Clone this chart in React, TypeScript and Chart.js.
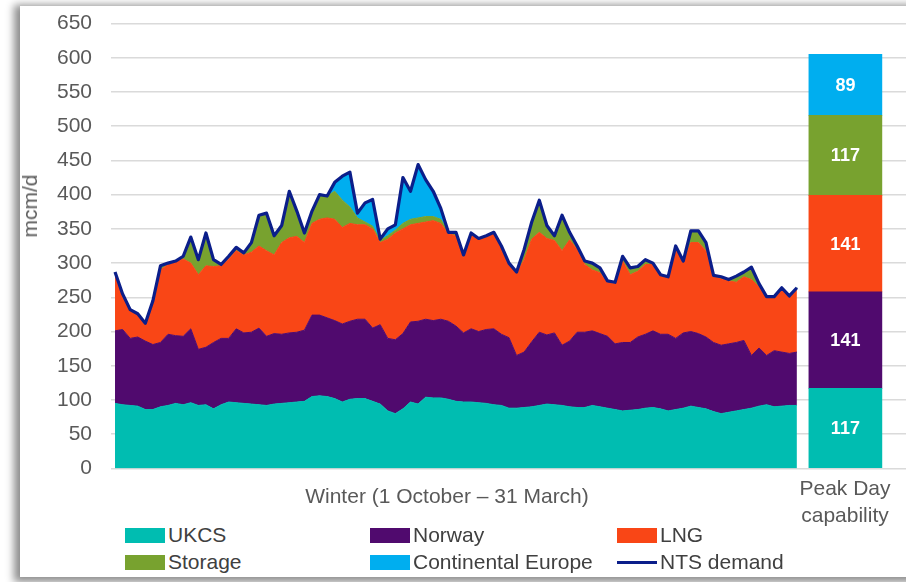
import React, { useEffect, useRef } from "react";
import { Chart, registerables } from "chart.js";

Chart.register(...registerables);

// ---- Data (one point every two days, 1 October – 31 March) ----
const ukcs = [
  95, 93, 92, 91, 86, 86, 90, 92, 95, 93,
  96, 92, 93, 87, 93, 97, 96, 95, 94, 93,
  92, 94, 95, 96, 97, 98, 105, 106, 105, 102,
  97, 101, 102, 102, 98, 94, 84, 80, 87, 97,
  94, 104, 103, 103, 101, 98, 97, 97, 96, 95,
  93, 92, 88, 88, 89, 90, 92, 94, 93, 92,
  90, 89, 89, 92, 90, 88, 86, 84, 85, 86,
  88, 89, 87, 84, 86, 88, 91, 89, 87, 83,
  80, 82, 84, 86, 88, 91, 93, 90, 91, 92, 92,
];
const norway = [
  106, 110, 98, 101, 100, 95, 94, 104, 99, 100,
  108, 82, 84, 97, 97, 93, 108, 103, 105, 112,
  101, 103, 101, 102, 102, 104, 119, 118, 115, 114,
  114, 114, 116, 116, 107, 116, 106, 108, 110, 117,
  121, 114, 113, 115, 114, 110, 101, 107, 104, 108,
  111, 104, 103, 77, 81, 95, 107, 101, 105, 88,
  96, 110, 110, 109, 107, 105, 96, 100, 99, 106,
  108, 112, 109, 112, 104, 110, 109, 108, 105, 101,
  100, 100, 100, 101, 77, 85, 72, 82, 79, 76, 78,
];
const lng = [
  84, 52, 42, 34, 26, 62, 106, 102, 108, 113,
  96, 109, 119, 111, 106, 116, 114, 114, 117, 120,
  125, 115, 134, 139, 140, 128, 134, 140, 146, 148,
  141, 143, 138, 138, 145, 120, 145, 156, 153, 142,
  143, 142, 146, 140, 128, 132, 110, 139, 135, 135,
  139, 127, 107, 120, 135, 150, 146, 141, 135, 138,
  148, 121, 99, 89, 89, 79, 88, 119, 99, 96,
  102, 97, 85, 82, 132, 102, 130, 133, 126, 96,
  97, 92, 88, 93, 111, 89, 85, 78, 93, 83, 92,
];
const storage = [
  2, 0, 0, 0, 0, 2, 6, 2, 1, 4,
  38, 22, 48, 10, 2, 4, 5, 3, 14, 45,
  55, 28, 25, 68, 37, 14, 18, 36, 32, 41,
  40, 24, 10, 4, 4, 3, 5, 4, 8, 8,
  8, 8, 6, 6, 2, 2, 2, 1, 1, 2,
  2, 2, 2, 2, 15, 25, 47, 19, 7, 52,
  11, 5, 5, 10, 7, 2, 2, 7, 10, 7,
  7, 2, 2, 2, 3, 3, 17, 17, 12, 2,
  3, 2, 9, 7, 18, 5, 1, 1, 1, 1, 2,
];
const continental = [
  0, 0, 0, 0, 0, 0, 0, 0, 0, 0,
  0, 0, 0, 0, 0, 0, 0, 0, 0, 0,
  0, 0, 0, 0, 0, 0, 0, 0, 0, 13,
  35, 51, 7, 28, 39, 2, 10, 8, 67, 41,
  78, 54, 37, 16, 0, 3, 2, 0, 0, 0,
  0, 0, 0, 0, 0, 0, 0, 0, 0, 0,
  0, 0, 0, 0, 0, 0, 0, 0, 0, 0,
  0, 0, 0, 0, 0, 0, 0, 0, 0, 0,
  0, 0, 0, 0, 0, 0, 0, 0, 0, 0, 0,
];
const ntsDemand = [
  287, 255, 232, 226, 212, 245, 296, 300, 303, 310,
  338, 305, 344, 305, 298, 310, 323, 315, 330, 370,
  373, 340, 355, 405, 376, 344, 376, 400, 398, 418,
  427, 433, 373, 388, 393, 335, 350, 356, 425, 405,
  444, 422, 405, 380, 345, 345, 312, 344, 336, 340,
  345, 325, 300, 287, 320, 360, 392, 355, 340, 370,
  345, 325, 303, 300, 293, 274, 272, 310, 293, 295,
  305, 300, 283, 280, 325, 303, 347, 347, 330, 282,
  280, 276, 281, 287, 294, 270, 251, 251, 264, 252, 264,
];

// Peak day capability (bottom to top)
const peakSeries = ["UKCS", "Norway", "LNG", "Storage", "Continental Europe"];
const peakValues = [117, 141, 141, 117, 89];

const yMin = 0;
const yMax = 650;
const yStep = 50;

const xTitle = "Winter (1 October \u2013 31 March)";
const yTitle = "mcm/d";
const peakTitle = ["Peak Day", "capability"];

// ---- Styles ----
const FONT = "'Liberation Sans', Arial, Helvetica, sans-serif";
const C = {
  ukcs: "#00BDB1",
  norway: "#500A6E",
  lng: "#F94616",
  storage: "#78A22F",
  cont: "#00AEEF",
  demand: "#0B1E8A",
};
const seriesColors = [C.ukcs, C.norway, C.lng, C.storage, C.cont];
const PEAK_X = 96.4;

const barLabelPlugin = {
  id: "barLabels",
  afterDatasetsDraw(chart: any) {
    const ctx = chart.ctx;
    chart.data.datasets.forEach((ds: any, di: number) => {
      if (ds.type !== "bar") return;
      const meta = chart.getDatasetMeta(di);
      meta.data.forEach((el: any, i: number) => {
        const p = el.getProps(["x", "y", "base"], true);
        ctx.save();
        ctx.fillStyle = "#ffffff";
        ctx.font = `bold 18px ${FONT}`;
        ctx.textAlign = "center";
        ctx.textBaseline = "middle";
        ctx.fillText(String(ds.data[i].y), p.x, (p.y + p.base) / 2 + 1);
        ctx.restore();
      });
    });
  },
};

export default function App() {
  const canvasRef = useRef<HTMLCanvasElement | null>(null);

  useEffect(() => {
    if (!canvasRef.current) return;
    const toXY = (arr: number[]) => arr.map((v, i) => ({ x: i, y: v }));
    const areaSeries = [ukcs, norway, lng, storage, continental];

    const areaSets = areaSeries.map((arr, k) => ({
      type: "line" as const,
      label: peakSeries[k],
      data: toXY(arr),
      stack: "winter",
      backgroundColor: seriesColors[k],
      borderColor: seriesColors[k],
      borderWidth: 1,
      pointRadius: 0,
      tension: 0,
      fill: k === 0 ? "origin" : "-1",
    }));

    const barSets = peakValues.map((v, k) => ({
      type: "bar" as const,
      label: peakSeries[k] + " peak",
      data: [{ x: PEAK_X, y: v }],
      stack: "peak",
      backgroundColor: seriesColors[k],
      borderWidth: 0,
      barThickness: 73,
    }));

    const chart = new Chart(canvasRef.current, {
      type: "line",
      data: {
        datasets: [
          {
            type: "line",
            label: "NTS demand",
            data: toXY(ntsDemand),
            stack: "demand",
            borderColor: C.demand,
            borderWidth: 3.2,
            pointRadius: 0,
            tension: 0,
            fill: false,
            borderJoinStyle: "round",
          } as any,
          ...areaSets,
          ...barSets,
        ],
      },
      options: {
        animation: false,
        responsive: false,
        maintainAspectRatio: false,
        layout: { padding: { top: 14, bottom: 2, left: 0, right: 0 } },
        plugins: {
          legend: { display: false },
          tooltip: { enabled: false },
        },
        scales: {
          x: {
            type: "linear",
            min: -0.53,
            max: 104.4,
            offset: false,
            display: false,
          },
          y: {
            stacked: true,
            min: yMin,
            max: yMax,
            ticks: {
              stepSize: yStep,
              padding: 19,
              color: "#595959",
              font: { size: 21, family: FONT },
            },
            grid: { color: "#dadada", lineWidth: 1.5, drawTicks: false },
            border: { display: false },
            afterFit: (s: any) => {
              s.width = 111;
            },
          },
        },
      } as any,
      plugins: [barLabelPlugin],
    });
    return () => chart.destroy();
  }, []);

  const legendRows = [
    [
      { label: "UKCS", color: C.ukcs, left: 125, line: false },
      { label: "Norway", color: C.norway, left: 370, line: false },
      { label: "LNG", color: C.lng, left: 617, line: false },
    ],
    [
      { label: "Storage", color: C.storage, left: 125, line: false },
      { label: "Continental Europe", color: C.cont, left: 370, line: false },
      { label: "NTS demand", color: C.demand, left: 617, line: true },
    ],
  ];
  const rowY = [535, 562];

  return (
    <div
      style={{
        position: "fixed",
        left: 0,
        top: 0,
        width: 906,
        height: 582,
        overflow: "hidden",
        background: "#ffffff",
        fontFamily: FONT,
      }}
    >
      <div
        style={{
          position: "absolute",
          left: 20,
          top: 6,
          width: 910,
          height: 571,
          background: "#ffffff",
          boxShadow: "-3px 2px 8px 3px rgba(0,0,0,0.45)",
        }}
      />
      <canvas
        ref={canvasRef}
        width={906}
        height={508}
        style={{ position: "absolute", left: 0, top: -8, width: 906, height: 508 }}
      />
      <div
        style={{
          position: "absolute",
          left: 30,
          top: 206,
          transform: "translate(-50%, -50%) rotate(-90deg)",
          fontSize: 21,
          color: "#595959",
          whiteSpace: "nowrap",
        }}
      >
        {yTitle}
      </div>
      <div
        style={{
          position: "absolute",
          left: 447,
          top: 496,
          transform: "translate(-50%, -50%)",
          fontSize: 21,
          color: "#595959",
          whiteSpace: "nowrap",
        }}
      >
        {xTitle}
      </div>
      <div
        style={{
          position: "absolute",
          left: 845,
          top: 501,
          transform: "translate(-50%, -50%)",
          fontSize: 21,
          lineHeight: "27px",
          color: "#595959",
          textAlign: "center",
          whiteSpace: "nowrap",
        }}
      >
        {peakTitle[0]}
        <br />
        {peakTitle[1]}
      </div>
      {legendRows.map((row, r) =>
        row.map((it) => (
          <div
            key={it.label}
            style={{
              position: "absolute",
              left: it.left,
              top: rowY[r],
              transform: "translateY(-50%)",
              display: "flex",
              alignItems: "center",
              whiteSpace: "nowrap",
            }}
          >
            <div
              style={{
                width: 40,
                height: it.line ? 3 : 15,
                background: it.color,
                marginRight: 3,
              }}
            />
            <span style={{ fontSize: 21, color: "#404040" }}>{it.label}</span>
          </div>
        ))
      )}
    </div>
  );
}
